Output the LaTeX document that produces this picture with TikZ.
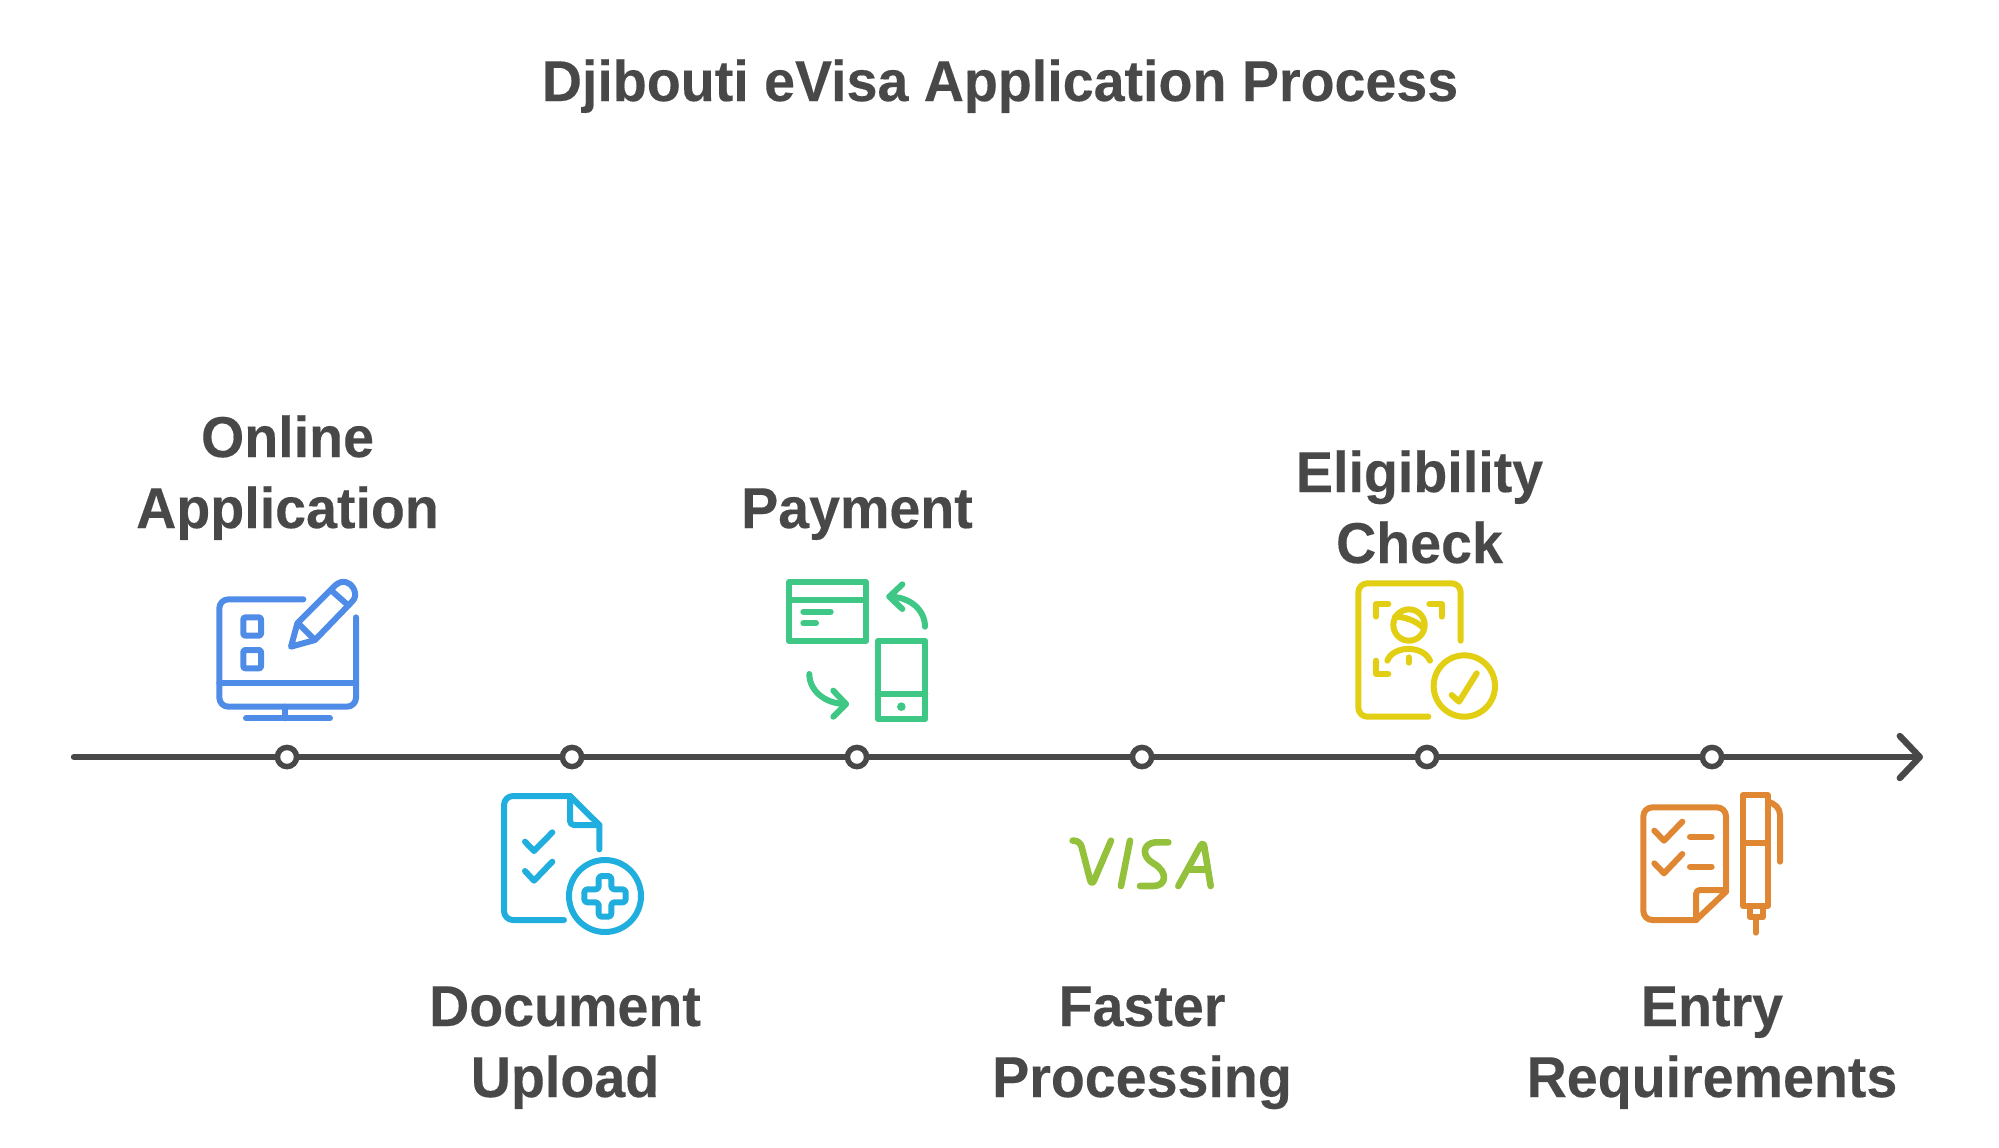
\documentclass[tikz,border=0pt]{standalone}
\usepackage{fontspec}
\setmainfont{Liberation Sans}[FakeStretch=0.965,BoldFeatures={FakeBold=0.25}]
\usetikzlibrary{arrows.meta}
\definecolor{ink}{HTML}{484848}
\definecolor{cblue}{HTML}{4F8CE8}
\definecolor{ccyan}{HTML}{1FAEDD}
\definecolor{cgreen}{HTML}{3EC785}
\definecolor{clime}{HTML}{93C13C}
\definecolor{cyel}{HTML}{E2CE12}
\definecolor{corange}{HTML}{E08733}
\tikzset{
  txtlabel/.style={inner sep=0pt,text=ink,font=\fontsize{28.8}{35.5}\selectfont\bfseries,align=center,anchor=base},
  dot/.style={circle,draw=ink,fill=white,line width=2.75pt,minimum size=9.6pt,inner sep=0pt},
  mainline/.style={draw=ink,line width=3.2pt,line cap=round,-{Straight Barb[length=10pt,width=21pt,round]}},
  icon/.style={line width=3pt,line cap=round,line join=round},
  zoomed/.style={x=0.16667pt,y=-0.16667pt}
}
\begin{document}
\begin{tikzpicture}[x=0.5pt,y=-0.5pt]
\useasboundingbox (0,0) rectangle (1999,1147);
\node[txtlabel] (title) at (1000,101) {Djibouti eVisa Application Process};
\node[txtlabel] (l1) at (287.5,528) {Online\\Application};
\node[txtlabel] (l2) at (565,1097) {Document\\Upload};
\node[txtlabel] (l3) at (857,528) {Payment};
\node[txtlabel] (l4) at (1142,1097) {Faster\\Processing};
\node[txtlabel] (l5) at (1419.5,563) {Eligibility\\Check};
\node[txtlabel] (l6) at (1712,1097) {Entry\\Requirements};
\coordinate (s) at (74,757);
\coordinate (e) at (1923,757);
\draw[mainline] (s) -- (e);
\foreach \n/\x in {n1/287,n2/572,n3/857,n4/1142,n5/1427,n6/1712}
  \node[dot] (\n) at (\x,757) {};
% Icon 1
\begin{scope}[shift={(190,560)},zoomed,icon,draw=cblue]
\draw[rounded corners=4.5pt] (340,118) -- (88,118) -- (88,440) -- (498,440) -- (498,172);
\draw (88,368) -- (498,368);
\draw (285,440) -- (285,475) (168,475) -- (420,475);
\draw[rounded corners=1pt] (160,172) rectangle (213,227);
\draw[rounded corners=1pt] (160,270) rectangle (213,325);
\draw (303,260) -- (322,190) -- (436,76) .. controls (458,56) and (482,68) .. (490,84) .. controls (500,104) and (495,116) .. (487,124) -- (375,240) -- cycle;
\draw (327,192) -- (372,237) (428,95) -- (470,132);
\end{scope}
% Icon 2
\begin{scope}[shift={(480,770)},zoomed,icon,draw=ccyan]
\draw[rounded corners=4.5pt] (252,450) -- (72,450) -- (72,78) -- (270,78);
\draw (270,78) -- (358,165) -- (358,238);
\draw[rounded corners=2pt] (270,78) -- (270,165) -- (358,165);
\draw (135,215) -- (162,243) -- (217,187);
\draw (135,303) -- (162,332) -- (217,275);
\draw (375,378) circle[radius=108];
\draw[rounded corners=1.5pt] (356,318) -- (394,318) -- (394,358) -- (437,358) -- (437,397) -- (394,397) -- (394,440) -- (356,440) -- (356,397) -- (313,397) -- (313,358) -- (356,358) -- cycle;
\end{scope}
% Icon 3
\begin{scope}[shift={(770,560)},zoomed,icon,draw=cgreen]
\draw (57,67) rectangle (288,243);
\draw (57,120) -- (288,120);
\draw (100,155) -- (182,155) (100,190) -- (138,190);
\draw (323,243) rectangle (466,477);
\draw (323,403) -- (466,403);
\fill[cgreen] (394,440) circle[radius=13];
\draw (465,200) .. controls (465,150) and (420,110) .. (358,110);
\draw (397,73) -- (358,110) -- (397,147);
\draw (118,342) .. controls (118,392) and (165,432) .. (228,432);
\draw (190,392) -- (228,432) -- (190,470);
\end{scope}
% Icon 4
\begin{scope}[shift={(1050,800)},zoomed,icon,line width=3.3pt,draw=clime]
\draw[rounded corners=3pt] (68,122) -- (90,122) -- (125,258) -- (183,122);
\draw (240,122) -- (213,258);
\draw (355,127) -- (318,127) .. controls (275,130) and (275,170) .. (310,190) .. controls (355,215) and (350,258) .. (310,258) -- (270,258);
\draw[rounded corners=3pt] (385,258) -- (460,122) -- (482,258);
\draw (420,208) -- (472,208);
\end{scope}
% Icon 5
\begin{scope}[shift={(1340,570)},zoomed,icon,draw=cyel]
\draw[rounded corners=4.5pt] (265,440) -- (55,440) -- (55,40) -- (362,40) -- (362,212);
\draw (108,140) -- (108,102) -- (145,102);
\draw (268,102) -- (305,102) -- (305,140);
\draw (108,272) -- (108,312) -- (145,312);
\draw (207,165) circle[radius=47];
\draw (165,140) .. controls (190,140) and (225,150) .. (248,172);
\draw (142,272) .. controls (160,225) and (250,225) .. (270,272);
\draw (206,262) -- (206,278);
\draw (373,348) circle[radius=92];
\draw (335,375) -- (357,395) -- (410,310);
\end{scope}
% Icon 6
\begin{scope}[shift={(1620,780)},zoomed,icon,draw=corange]
\draw[rounded corners=4.5pt] (228,420) -- (70,420) -- (70,82) -- (318,82) -- (318,335);
\draw (318,335) -- (228,420);
\draw[rounded corners=2pt] (228,420) -- (228,330) -- (318,330);
\draw (103,152) -- (132,182) -- (187,125);
\draw (103,250) -- (132,280) -- (187,222);
\draw (210,170) -- (275,170) (210,260) -- (275,260);
\draw (370,45) rectangle (443,378);
\draw (370,188) -- (443,188);
\draw (390,378) rectangle (428,412);
\draw (407,412) -- (407,458);
\draw (443,65) .. controls (465,70) and (480,85) .. (480,105) -- (480,245);
\end{scope}
\end{tikzpicture}
\end{document}
